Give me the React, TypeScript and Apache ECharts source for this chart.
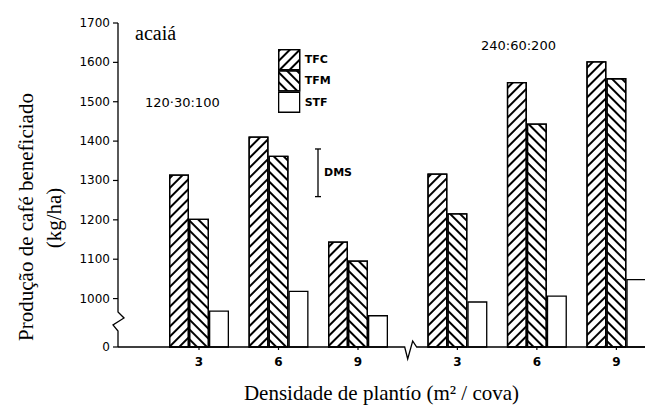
import React, { useEffect, useRef } from "react";
import * as echarts from "echarts";

// Data
const categories = ["3", "6", "9", "3", "6", "9"];
const TFC = [1315, 1412, 1145, 1318, 1550, 1603];
const TFM = [1203, 1363, 1097, 1217, 1445, 1560];
const STF = [970, 1020, 958, 993, 1008, 1050];
const yTicks = [1000, 1100, 1200, 1300, 1400, 1500, 1600, 1700];
const doseLabels = ["120·30:100", "240:60:200"];
const dmsRange = [1259, 1380];

const Y_MIN = 877; // where the broken axis shows "0"
const GAP = 0.25; // extra gap at the x-axis break
const xPos = categories.map((_, i) => i + (i >= 3 ? GAP : 0));

const serif = "Liberation Serif";
const sans = "DejaVu Sans";

export default function App() {
  const ref = useRef<HTMLDivElement>(null);
  const overRef = useRef<HTMLDivElement>(null);
  useEffect(() => {
    if (!ref.current || !overRef.current) return;
    const chart = echarts.init(ref.current, null, { renderer: "svg" });
    const hatch = (rot: number) => ({
      symbol: "rect",
      symbolSize: 1,
      color: "#000",
      dashArrayX: [1, 0],
      dashArrayY: [1.6, 4.4],
      rotation: rot,
    });
    const mk = (name: string, vals: number[], decal: any) => {
      const s: any = {
        name,
        type: "bar",
        data: vals.map((v, i) => [xPos[i], v]),
        barWidth: 20,
        barGap: "0%",
        clip: true,
        itemStyle: { color: "#fff", borderColor: "#000", borderWidth: 1.3 },
        emphasis: { disabled: true },
      };
      if (decal) s.itemStyle.decal = decal;
      return s;
    };
    const xMin = (118 - 199) / 79.5;
    const xMax = (645 - 199) / 79.5;
    const option: any = {
      animation: false,
      grid: { left: 118, right: 0, top: 23, bottom: 58 },
      legend: {
        orient: "vertical",
        left: 278,
        top: 49,
        itemWidth: 21,
        itemHeight: 20,
        itemGap: 0,
        padding: 0,
        icon: "rect",
        itemStyle: { borderColor: "#000", borderWidth: 1.3 },
        textStyle: { fontFamily: sans, fontSize: 11, fontWeight: "bold", color: "#000" },
        data: ["TFC", "TFM", "STF"],
      },
      xAxis: {
        type: "value",
        min: xMin,
        max: xMax,
        splitLine: { show: false },
        axisLine: { show: false, onZero: false },
        axisTick: { show: false },
        axisLabel: {
          customValues: xPos,
          margin: 9,
          fontFamily: sans,
          fontSize: 12,
          fontWeight: "bold",
          color: "#000",
          formatter: (v: number) => {
            const i = xPos.findIndex((p) => Math.abs(p - v) < 1e-6);
            return i >= 0 ? categories[i] : "";
          },
        },
        name: "Densidade de plantío (m² / cova)",
        nameLocation: "middle",
        nameGap: 35,
        nameTextStyle: { fontFamily: serif, fontSize: 21, color: "#000" },
      },
      yAxis: {
        type: "value",
        min: Y_MIN,
        max: 1700,
        splitLine: { show: false },
        axisLine: { show: false, onZero: false },
        axisTick: { show: false },
        axisLabel: {
          customValues: [Y_MIN, ...yTicks],
          margin: 8,
          fontFamily: sans,
          fontSize: 12,
          color: "#000",
          formatter: (v: number) => (v === Y_MIN ? "0" : String(v)),
        },
      },
      series: [mk("TFC", TFC, hatch(-Math.PI / 4)), mk("TFM", TFM, hatch(Math.PI / 4)), mk("STF", STF, null)],
      graphic: [
        {
          type: "text", z: 170, x: 135, y: 33,
          style: { text: "acaiá", fontFamily: serif, fontSize: 20, fill: "#000", verticalAlign: "middle" },
        },
        {
          type: "text", z: 170, x: 145, y: 102,
          style: { text: doseLabels[0], fontFamily: sans, fontSize: 13, fill: "#000", verticalAlign: "middle" },
        },
        {
          type: "text", z: 170, x: 481, y: 45,
          style: { text: doseLabels[1], fontFamily: sans, fontSize: 13, fill: "#000", verticalAlign: "middle" },
        },
        {
          type: "text", z: 170, x: 26, y: 217, rotation: Math.PI / 2,
          style: { text: "Produção de café beneficiado", fontFamily: serif, fontSize: 21, fill: "#000", align: "center", verticalAlign: "middle" },
        },
        {
          type: "text", z: 170, x: 54, y: 218, rotation: Math.PI / 2,
          style: { text: "(kg/ha)", fontFamily: serif, fontSize: 21, fill: "#000", align: "center", verticalAlign: "middle" },
        },
      ],
    };
    chart.setOption(option);

    // Axis frame, ticks, breaks and DMS drawn in a transparent overlay chart,
    // positioned through the main chart's own scales.
    const px = (v: number) => chart.convertToPixel({ xAxisIndex: 0 }, v) as number;
    const py = (v: number) => chart.convertToPixel({ yAxisIndex: 0 }, v) as number;
    const left = px(xMin);
    const right = px(xMax);
    const top = py(1700);
    const base = py(Y_MIN);
    const yTop = py(dmsRange[1]);
    const yBot = py(dmsRange[0]);
    const dmsX = 318;
    const bx = px((xPos[2] + xPos[3]) / 2);
    const pl = (pts: number[][], w = 1.3) => ({
      type: "polyline", shape: { points: pts }, style: { stroke: "#000", lineWidth: w, fill: null },
    });
    const over = echarts.init(overRef.current, null, { renderer: "svg" });
    over.setOption({
      animation: false,
      graphic: [
        pl([[left, top], [left, 312], [left + 6, 318], [left - 5, 325], [left, 331], [left, base]]),
        pl([[left, base], [bx - 3, base], [bx, base + 12], [bx + 5, base - 6], [bx + 9, base], [right, base]]),
        ...[Y_MIN, ...yTicks].map((v) => pl([[left - 5, py(v)], [left, py(v)]], 1.2)),
        ...xPos.map((v) => pl([[px(v), base], [px(v), base + 3]], 1.2)),
        pl([[dmsX, yTop], [dmsX, yBot]]),
        pl([[dmsX - 3, yTop], [dmsX + 3, yTop]]),
        pl([[dmsX - 3, yBot], [dmsX + 3, yBot]]),
        {
          type: "text", x: dmsX + 6, y: (yTop + yBot) / 2,
          style: { text: "DMS", fontFamily: sans, fontSize: 11, fontWeight: "bold", fill: "#000", verticalAlign: "middle" },
        },
      ],
    });
    return () => {
      over.dispose();
      chart.dispose();
    };
  }, []);
  return (
    <div style={{ position: "fixed", left: 0, top: 0, width: 645, height: 408, background: "#fff" }}>
      <div ref={ref} style={{ position: "absolute", left: 0, top: 0, width: 645, height: 408 }} />
      <div
        ref={overRef}
        style={{ position: "absolute", left: 0, top: 0, width: 645, height: 408, pointerEvents: "none" }}
      />
    </div>
  );
}
